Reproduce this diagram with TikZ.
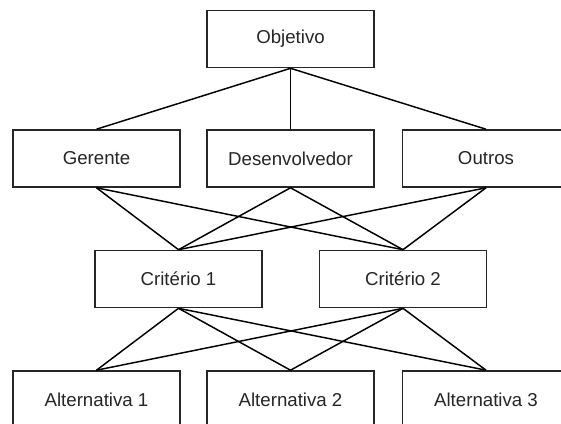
\documentclass[tikz,border=0pt]{standalone}
\usepackage{fontspec}
\setmainfont{Liberation Sans}
\begin{document}
\begin{tikzpicture}[x=0.75pt,y=-0.75pt,
  box/.style={draw=black!85, line width=1.2pt, fill=white,
    minimum width=125.25pt, minimum height=42.75pt, inner sep=0pt,
    font=\fontsize{14}{16}\selectfont, text=black!85},
  link/.style={draw=black, line width=1.1pt}]
\useasboundingbox (0,0) rectangle (561,424);
\clip (0,0) rectangle (561,424);
\fill[white] (0,0) rectangle (561,424);

% levels of the hierarchy
\node[box] (obj) at (290.5,39) {Objetivo};

\node[box] (ger) at (96.5,158.5) {Gerente};
\node[box] (dev) at (290.5,158.5) {Desenvolvedor};
\node[box] (out) at (486,158.5) {Outros};

\node[box] (c1) at (178.5,279) {Critério 1};
\node[box] (c2) at (403,279) {Critério 2};

\node[box] (a1) at (96.5,399.5) {Alternativa 1};
\node[box] (a2) at (290.5,399.5) {Alternativa 2};
\node[box] (a3) at (486,399.5) {Alternativa 3};

% connections between levels
\foreach \s in {ger,dev,out}
  \draw[link] (obj.south) -- (\s.north);
\foreach \s in {ger,dev,out}
  \foreach \t in {c1,c2}
    \draw[link] (\s.south) -- (\t.north);
\foreach \s in {c1,c2}
  \foreach \t in {a1,a2,a3}
    \draw[link] (\s.south) -- (\t.north);
\end{tikzpicture}
\end{document}
